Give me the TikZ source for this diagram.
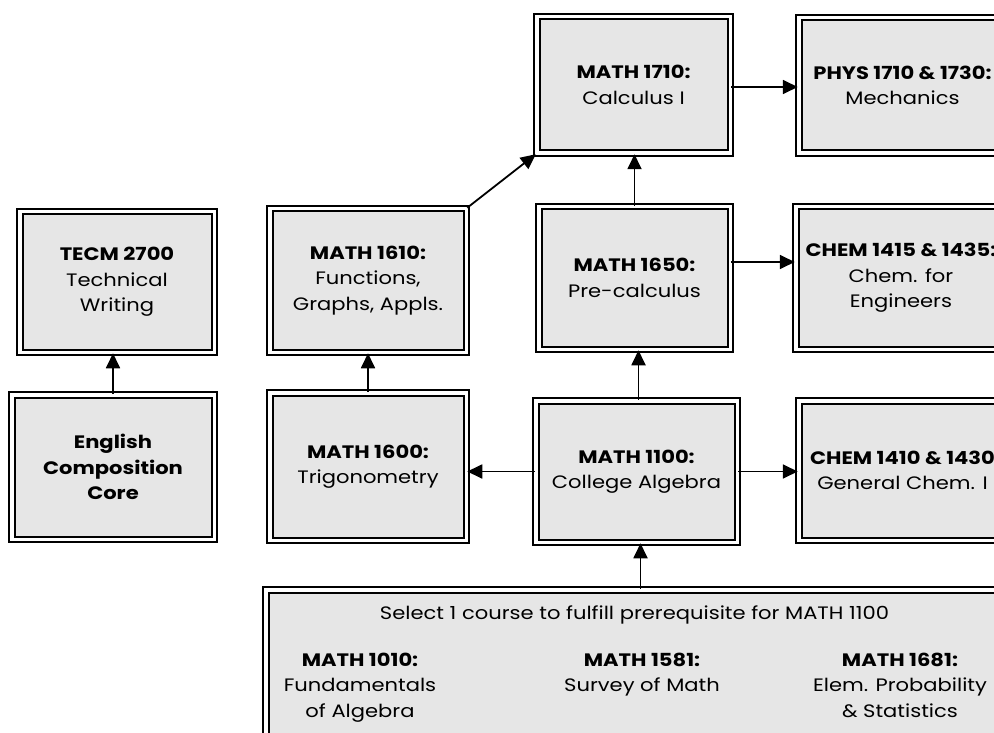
\documentclass[tikz,border=0pt]{standalone}
\usepackage{fontspec}
\setmainfont{Poppins}[FakeStretch=1.17]
\usetikzlibrary{arrows.meta,calc}
\definecolor{boxgray}{HTML}{E6E6E6}
\tikzset{
  course/.style={draw=black, line width=2pt, double=white, double distance=3.5pt,
    fill=boxgray, inner sep=0pt, align=center, font=\fontsize{18}{25.5}\selectfont},
  link/.style={line width=1.8pt, -{Triangle[length=15pt,width=14pt]}},
  plain/.style={inner sep=0pt, align=center, anchor=north, font=\fontsize{18}{25.5}\selectfont}
}
\begin{document}
\begin{tikzpicture}[x=1pt,y=-1pt]
\useasboundingbox (0,0) rectangle (994,733);
\clip (0,0) rectangle (994,733);
\node[course, minimum width=194.5pt, minimum height=140.5pt] (tecm) at (117,282) {\textbf{TECM 2700}\\Technical\\Writing};
\node[course, minimum width=202.5pt, minimum height=144.5pt] (eng) at (113,467) {\textbf{English}\\\textbf{Composition}\\\textbf{Core}};
\node[course, minimum width=196.5pt, minimum height=143.5pt] (m1610) at (368,280.5) {\textbf{MATH 1610:}\\Functions,\\Graphs, Appls.};
\node[course, minimum width=196.5pt, minimum height=147.5pt] (m1600) at (368,466.5) {\textbf{MATH 1600:}\\Trigonometry};
\node[course, minimum width=193.5pt, minimum height=136.5pt] (m1710) at (633.5,85) {\textbf{MATH 1710:}\\Calculus I};
\node[course, minimum width=191.5pt, minimum height=142.5pt] (m1650) at (634.5,278) {\textbf{MATH 1650:}\\Pre-calculus};
\node[course, minimum width=201.5pt, minimum height=141.5pt] (m1100) at (636.5,471.5) {\textbf{MATH 1100:}\\College Algebra};
\node[course, minimum width=207.5pt, minimum height=135.5pt] (phys) at (902.5,85.5) {\textbf{PHYS 1710 \& 1730:}\\Mechanics};
\node[course, minimum width=210.5pt, minimum height=142.5pt] (chemb) at (901,278) {\textbf{CHEM 1415 \& 1435:}\\Chem. for\\Engineers};
\node[course, minimum width=207.5pt, minimum height=139.5pt] (chema) at (902.5,470.5) {\textbf{CHEM 1410 \& 1430}\\General Chem. I};
\node[course, minimum width=760.5pt, minimum height=146.5pt] (sel) at (646,663) {};
\node[plain] (seltxt) at (634.5,601) {\strut Select 1 course to fulfill prerequisite for MATH 1100};
\node[plain] (c1010) at (360,648) {\strut\textbf{MATH 1010:}\\Fundamentals\\of Algebra};
\node[plain] (c1581) at (642,648) {\strut\textbf{MATH 1581:}\\Survey of Math};
\node[plain] (c1681) at (900,648) {\strut\textbf{MATH 1681:}\\Elem. Probability\\\& Statistics};
% connectors
\draw[link] (eng.north) -- (eng.north |- tecm.south);
\draw[link] (m1600.north) -- (m1600.north |- m1610.south);
\draw[link] (m1610.north east) -- (m1710.south west);
\draw[link] (m1650.north) -- (m1650.north |- m1710.south);
\draw[link] ([xshift=2pt]m1100.north) -- ([xshift=2pt]m1100.north |- m1650.south);
\draw[link] ([xshift=4pt]sel.north -| m1100) -- ([xshift=4pt]m1100.south);
\draw[link] (m1100.west) -- (m1100.west -| m1600.east);
\draw[link] (m1100.east) -- (m1100.east -| chema.west);
\draw[link] ([yshift=16pt]m1650.east) -- ([yshift=16pt]m1650.east -| chemb.west);
\draw[link] ([yshift=-2pt]m1710.east) -- ([yshift=-2pt]m1710.east -| phys.west);
\end{tikzpicture}
\end{document}
